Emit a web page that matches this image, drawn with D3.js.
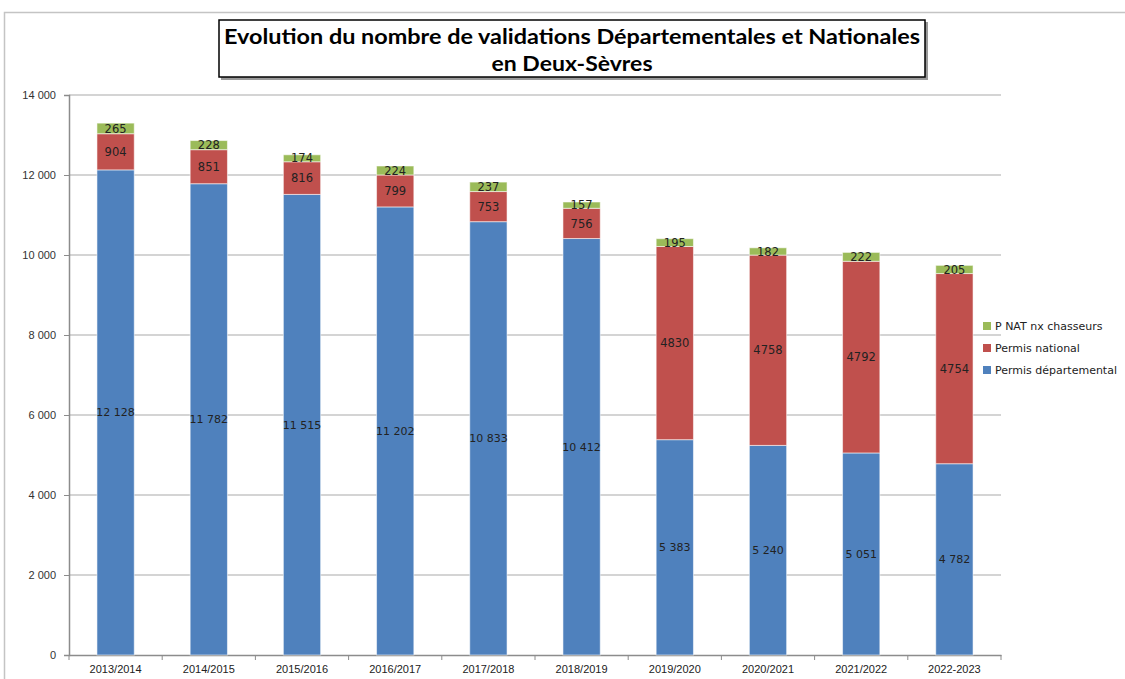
<!DOCTYPE html>
<html>
<head>
<meta charset="utf-8">
<script src="https://cdn.jsdelivr.net/npm/d3@7"></script>
<style>
  body { margin: 0; background: #fff; }
  svg { display: block; font-family: "DejaVu Sans", sans-serif; }
</style>
</head>
<body>
<svg id="chart"></svg>
<script>
// saisons + séries
const seasons = ['2013/2014', '2014/2015', '2015/2016', '2016/2017', '2017/2018',
                 '2018/2019', '2019/2020', '2020/2021', '2021/2022', '2022-2023'];
const permisDep = [12128, 11782, 11515, 11202, 10833, 10412, 5383, 5240, 5051, 4782];
const permisNat = [904, 851, 816, 799, 753, 756, 4830, 4758, 4792, 4754];
const natNxChasseurs = [265, 228, 174, 224, 237, 157, 195, 182, 222, 205];
const yTicks = [0, 2000, 4000, 6000, 8000, 10000, 12000, 14000];

const seriesKeys = ['dep', 'nat', 'nx'];
const seriesNames = { dep: 'Permis départemental', nat: 'Permis national', nx: 'P NAT nx chasseurs' };
const colors = { dep: '#4F81BD', nat: '#C0504D', nx: '#9BBB59' };

const svgWidth = 1125, svgHeight = 679;
const margin = { top: 95, right: 124, bottom: 24, left: 69 };
const width = svgWidth - margin.left - margin.right;
const height = svgHeight - margin.top - margin.bottom;

const svg = d3.select('#chart')
    .attr('width', svgWidth)
    .attr('height', svgHeight);

// cadre gris de la zone graphique
svg.append('path')
    .attr('d', 'M4.5,' + svgHeight + 'V12.5H' + svgWidth)
    .attr('fill', 'none')
    .attr('stroke', '#c4c4c4')
    .attr('stroke-width', 1.5);

// titre encadré
const tBox = svg.append('g');
tBox.append('rect')
    .attr('x', 221).attr('y', 22).attr('width', 707).attr('height', 58)
    .attr('fill', '#999');
tBox.append('rect')
    .attr('x', 219).attr('y', 20).attr('width', 706).attr('height', 57)
    .attr('fill', '#fff').attr('stroke', '#000').attr('stroke-width', 1.5);
const titleFont = 'Lato, "DejaVu Sans Condensed", sans-serif';
tBox.append('text')
    .attr('x', 572).attr('y', 44)
    .attr('text-anchor', 'middle')
    .attr('font-size', 21).attr('font-weight', 'bold')
    .attr('font-family', titleFont)
    .attr('textLength', 696).attr('lengthAdjust', 'spacingAndGlyphs')
    .text('Evolution du nombre de validations Départementales et Nationales');
tBox.append('text')
    .attr('x', 572).attr('y', 71)
    .attr('text-anchor', 'middle')
    .attr('font-size', 21).attr('font-weight', 'bold')
    .attr('font-family', titleFont)
    .attr('textLength', 161).attr('lengthAdjust', 'spacingAndGlyphs')
    .text('en Deux-Sèvres');

const g = svg.append('g')
    .attr('transform', 'translate(' + margin.left + ',' + margin.top + ')');

const data = seasons.map((s, i) => ({ season: s, dep: permisDep[i], nat: permisNat[i], nx: natNxChasseurs[i] }));

const x = d3.scaleBand()
    .domain(seasons)
    .range([0, width])
    .paddingInner(0.6)
    .paddingOuter(0.3);

const y = d3.scaleLinear()
    .domain([0, 14000])
    .range([height, 0]);

const fmt = v => d3.format(',')(v).replace(/,/g, ' ');

// grille
g.append('g')
    .selectAll('line')
    .data(yTicks.filter(d => d > 0))
    .join('line')
    .attr('x1', 0).attr('x2', width)
    .attr('y1', d => y(d)).attr('y2', d => y(d))
    .attr('stroke', '#c6c6c6')
    .attr('stroke-width', 1.5);

// axe Y
const yAxis = g.append('g')
    .call(d3.axisLeft(y).tickValues(yTicks).tickFormat(fmt).tickSize(5).tickPadding(8));
yAxis.select('.domain').attr('stroke', '#8c8c8c').attr('stroke-width', 1.5);
yAxis.selectAll('.tick line').attr('stroke', '#8c8c8c');
yAxis.selectAll('text').attr('font-size', 11).attr('fill', '#333');

// axe X
const xAxis = g.append('g')
    .attr('transform', 'translate(0,' + height + ')')
    .call(d3.axisBottom(x).tickSize(0).tickPadding(10));
xAxis.select('.domain').attr('stroke', '#8c8c8c').attr('stroke-width', 1.5);
xAxis.selectAll('text').attr('font-size', 11).attr('fill', '#222');
xAxis.append('g')
    .selectAll('line')
    .data(d3.range(seasons.length + 1))
    .join('line')
    .attr('x1', i => i * x.step()).attr('x2', i => i * x.step())
    .attr('y1', 0).attr('y2', 5)
    .attr('stroke', '#8c8c8c');

// barres empilées
const stack = d3.stack().keys(seriesKeys)(data);

const layers = g.append('g')
    .selectAll('g')
    .data(stack)
    .join('g')
    .attr('fill', d => colors[d.key]);

layers.selectAll('rect')
    .data(d => d)
    .join('rect')
    .attr('x', d => x(d.data.season))
    .attr('y', d => y(d[1]))
    .attr('width', x.bandwidth())
    .attr('height', d => y(d[0]) - y(d[1]))
    .attr('stroke', 'rgba(255,255,255,0.55)')
    .attr('stroke-width', 1);

// étiquettes
stack.forEach(layer => {
    g.append('g')
        .selectAll('text')
        .data(layer)
        .join('text')
        .attr('x', d => x(d.data.season) + x.bandwidth() / 2)
        .attr('y', d => (y(d[0]) + y(d[1])) / 2)
        .attr('dy', '0.36em')
        .attr('text-anchor', 'middle')
        .attr('font-size', layer.key === 'dep' ? 11 : 11.5)
        .attr('fill', '#222')
        .text(d => layer.key === 'dep' ? fmt(d.data.dep) : d.data[layer.key]);
});

// légende
const legendKeys = ['nx', 'nat', 'dep'];
const legend = svg.append('g')
    .attr('transform', 'translate(983,322)')
    .selectAll('g')
    .data(legendKeys)
    .join('g')
    .attr('transform', (d, i) => 'translate(0,' + i * 22 + ')');
legend.append('rect')
    .attr('width', 8).attr('height', 8)
    .attr('fill', d => colors[d]);
legend.append('text')
    .attr('x', 12).attr('y', 4)
    .attr('dy', '0.36em')
    .attr('font-size', 11)
    .attr('fill', '#222')
    .text(d => seriesNames[d]);
</script>
</body>
</html>
